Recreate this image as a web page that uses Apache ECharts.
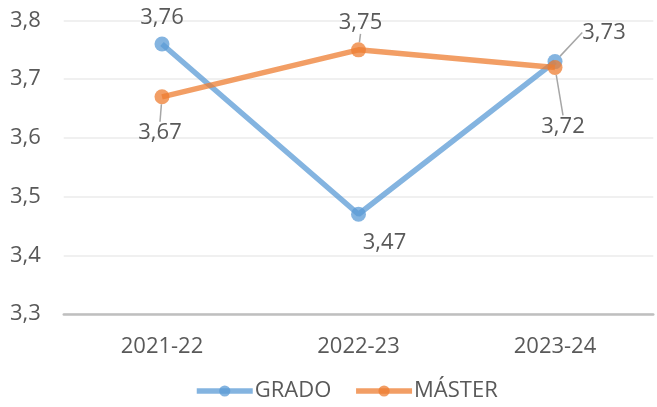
<!DOCTYPE html>
<html>
<head>
<meta charset="utf-8">
<script src="https://cdn.jsdelivr.net/npm/echarts@6/dist/echarts.min.js"></script>
<style>
  html, body { margin: 0; padding: 0; background: #fff; }
  #chart { width: 657px; height: 407px; }
</style>
</head>
<body>
<div id="chart"></div>
<script>
// Academic years on the category axis
const years = ['2021-22', '2022-23', '2023-24'];
// Average scores per programme
const grado = [3.76, 3.47, 3.73];
const master = [3.67, 3.75, 3.72];
// Value axis range
const yMin = 3.3;
const yMax = 3.8;
const yStep = 0.1;

const FONT = 'Open Sans';
const TEXT = '#595959';

// Label offsets (dx, dy) from each point, and whether a leader line is drawn
const gradoLabelPos = [[0, -26, false], [26, 29, false], [49, -29, true]];
const masterLabelPos = [[-2, 36, true], [2, -27, true], [8, 59, true]];

const comma = (v, d) => v.toFixed(d).replace('.', ',');

function buildData(values, pos) {
  return values.map((v, i) => ({
    value: v,
    labelLine: { show: pos[i][2] }
  }));
}

function layoutFor(pos) {
  return function (params) {
    const p = pos[params.dataIndex];
    return { dx: p[0], dy: p[1] };
  };
}

const chart = echarts.init(document.getElementById('chart'), null, { renderer: 'canvas' });

chart.setOption({
  animation: false,
  grid: { left: 63.75, right: 3.75, top: 20.5, bottom: 93 },
  legend: {
    bottom: 0,
    left: 189,
    itemWidth: 56,
    itemHeight: 14,
    itemGap: 22,
    lineStyle: { width: 5.5 },
    textStyle: { fontFamily: FONT, fontSize: 22, color: TEXT, padding: [0, 0, 0, -3] },
    data: ['GRADO', 'MÁSTER']
  },
  xAxis: {
    type: 'category',
    data: years,
    boundaryGap: true,
    axisLine: { lineStyle: { color: '#BFBFBF', width: 2.5 } },
    axisTick: { show: false },
    axisLabel: { fontFamily: FONT, fontSize: 22, color: TEXT, margin: 22 }
  },
  yAxis: {
    type: 'value',
    min: yMin,
    max: yMax,
    interval: yStep,
    axisLine: { show: false },
    axisTick: { show: false },
    axisLabel: {
      fontFamily: FONT, fontSize: 22, color: TEXT, margin: 23,
      formatter: v => comma(v, 1)
    },
    splitLine: { lineStyle: { color: '#EBEBEB', width: 1.5 } }
  },
  series: [
    {
      name: 'GRADO',
      type: 'line',
      data: buildData(grado, gradoLabelPos),
      symbol: 'circle',
      symbolSize: 15,
      itemStyle: { color: 'rgba(91,155,213,0.75)' },
      lineStyle: { color: 'rgba(91,155,213,0.75)', width: 5.5 },
      label: {
        show: true,
        position: 'inside',
        fontFamily: FONT, fontSize: 22, color: TEXT,
        formatter: p => comma(p.value, 2)
      },
      labelLine: { show: true, lineStyle: { color: '#A6A6A6', width: 1.5 } },
      labelLayout: layoutFor(gradoLabelPos),
      z: 2
    },
    {
      name: 'MÁSTER',
      type: 'line',
      data: buildData(master, masterLabelPos),
      symbol: 'circle',
      symbolSize: 15,
      itemStyle: { color: 'rgba(237,125,49,0.75)' },
      lineStyle: { color: 'rgba(237,125,49,0.75)', width: 5.5 },
      label: {
        show: true,
        position: 'inside',
        fontFamily: FONT, fontSize: 22, color: TEXT,
        formatter: p => comma(p.value, 2)
      },
      labelLine: { show: true, lineStyle: { color: '#A6A6A6', width: 1.5 } },
      labelLayout: layoutFor(masterLabelPos),
      z: 3
    }
  ]
});
</script>
</body>
</html>
